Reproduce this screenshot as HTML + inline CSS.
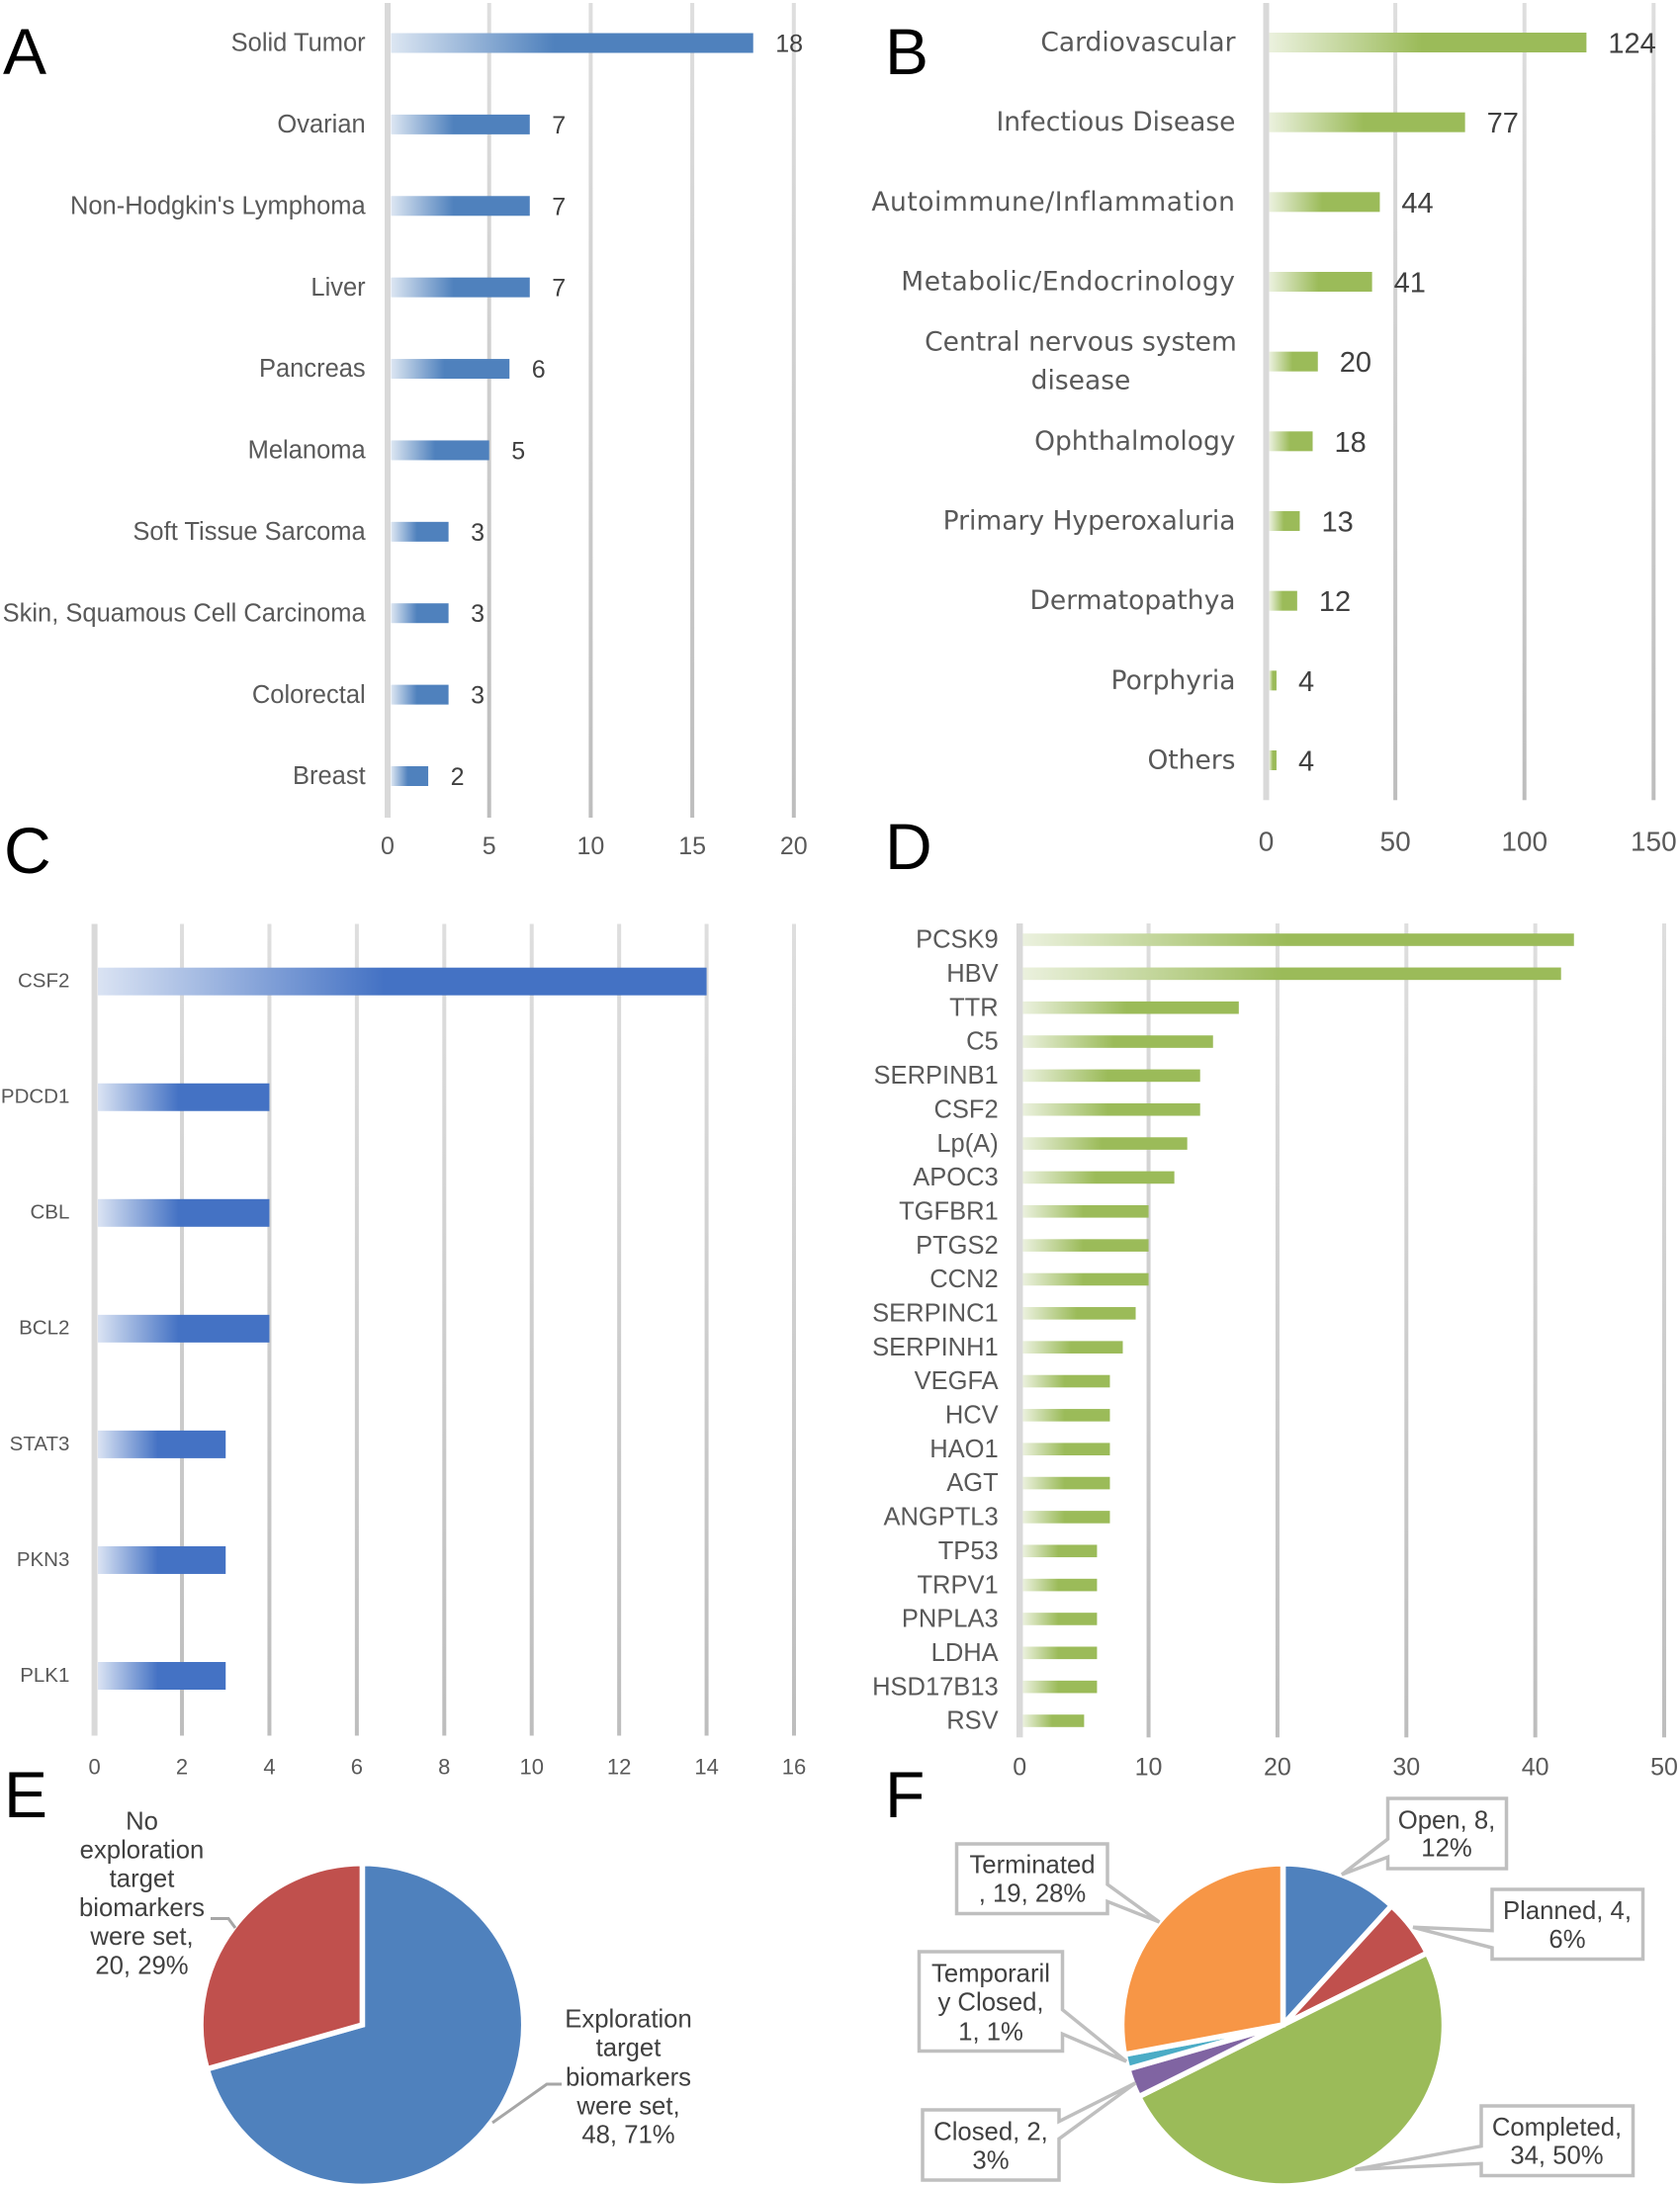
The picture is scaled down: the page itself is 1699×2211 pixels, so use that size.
<!DOCTYPE html>
<html lang="en">
<head>
<meta charset="utf-8">
<title>Panels A-F: bar and pie charts</title>
<style>
  html, body { margin: 0; padding: 0; background: #fff; }
  svg { display: block; font-family: "Liberation Sans", Arial, sans-serif; }
</style>
</head>
<body>
<svg id="figure" xmlns="http://www.w3.org/2000/svg" width="1699" height="2211" viewBox="0 0 1699 2211">
  <defs>
    <linearGradient id="grid-fade" x1="0" y1="0" x2="0" y2="1">
      <stop offset="0" stop-color="#dedede"/><stop offset="1" stop-color="#bdbdbd"/>
    </linearGradient>
    <linearGradient id="fade-a" x1="0" y1="0" x2="1" y2="0">
      <stop offset="0" stop-color="#dce6f2"/><stop offset="0.45" stop-color="#4f81bd"/><stop offset="1" stop-color="#4f81bd"/>
    </linearGradient>
    <linearGradient id="fade-b" x1="0" y1="0" x2="1" y2="0">
      <stop offset="0" stop-color="#ebf1de"/><stop offset="0.48" stop-color="#9bbb59"/><stop offset="1" stop-color="#9bbb59"/>
    </linearGradient>
    <linearGradient id="fade-c" x1="0" y1="0" x2="1" y2="0">
      <stop offset="0" stop-color="#dae3f3"/><stop offset="0.47" stop-color="#4472c4"/><stop offset="1" stop-color="#4472c4"/>
    </linearGradient>
  </defs>
  <rect x="0" y="0" width="1699" height="2211" fill="#ffffff"/>
  <g font-size="66" fill="#000000">
    <text x="3" y="75">A</text>
    <text x="895" y="75">B</text>
    <text x="4" y="883">C</text>
    <text x="895" y="879">D</text>
    <text x="4" y="1838">E</text>
    <text x="895" y="1838">F</text>
  </g>
  <g id="panels"></g>
</svg>
<script>
// ---- Panel A data ----
const categoriesA = ["Solid Tumor", "Ovarian", "Non-Hodgkin's Lymphoma", "Liver", "Pancreas", "Melanoma", "Soft Tissue Sarcoma", "Skin, Squamous Cell Carcinoma", "Colorectal", "Breast"];
const valuesA = [18, 7, 7, 7, 6, 5, 3, 3, 3, 2];
const ticksA = [0, 5, 10, 15, 20];
// ---- Panel B data ----
const categoriesB = ["Cardiovascular", "Infectious Disease", "Autoimmune/Inflammation", "Metabolic/Endocrinology", "Central nervous system|disease", "Ophthalmology", "Primary Hyperoxaluria", "Dermatopathya", "Porphyria", "Others"];
const valuesB = [124, 77, 44, 41, 20, 18, 13, 12, 4, 4];
const ticksB = [0, 50, 100, 150];
// ---- Panel C data ----
const categoriesC = ["CSF2", "PDCD1", "CBL", "BCL2", "STAT3", "PKN3", "PLK1"];
const valuesC = [14, 4, 4, 4, 3, 3, 3];
const ticksC = [0, 2, 4, 6, 8, 10, 12, 14, 16];
// ---- Panel D data ----
const categoriesD = ["PCSK9", "HBV", "TTR", "C5", "SERPINB1", "CSF2", "Lp(A)", "APOC3", "TGFBR1", "PTGS2", "CCN2", "SERPINC1", "SERPINH1", "VEGFA", "HCV", "HAO1", "AGT", "ANGPTL3", "TP53", "TRPV1", "PNPLA3", "LDHA", "HSD17B13", "RSV"];
const valuesD = [43, 42, 17, 15, 14, 14, 13, 12, 10, 10, 10, 9, 8, 7, 7, 7, 7, 7, 6, 6, 6, 6, 6, 5];
const ticksD = [0, 10, 20, 30, 40, 50];
// ---- Panel E data ----
const sliceNamesE = ["Exploration target biomarkers were set", "No exploration target biomarkers were set"];
const sliceValuesE = [48, 20];
// ---- Panel F data ----
const sliceNamesF = ["Open", "Planned", "Completed", "Closed", "Temporarily Closed", "Terminated"];
const sliceValuesF = [8, 4, 34, 2, 1, 19];

const NS = "http://www.w3.org/2000/svg";
const root = document.getElementById("panels");

function make(tag, parent, attrs) {
  const el = document.createElementNS(NS, tag);
  for (const k in attrs) el.setAttribute(k, attrs[k]);
  parent.appendChild(el);
  return el;
}

function slug(s) {
  return String(s).toLowerCase().replace(/[^a-z0-9]+/g, "-").replace(/^-|-$/g, "");
}

function drawBarPanel(panelId, cats, vals, ticks, o) {
  const g = make("g", root, {});
  
  
  const maxTick = ticks[ticks.length - 1];
  const xScale = v => o.x0 + (o.xMax - o.x0) * v / maxTick;
  const yScale = i => o.yFirst + (o.yLast - o.yFirst) * i / (cats.length - 1);
  const catFamily = o.catFamily || '"Liberation Sans", sans-serif';

  ticks.forEach(t => {
    const isZero = t === 0;
    const w = isZero ? o.axisW : o.gridW;
    const line = make("rect", g, {
      x: xScale(t) - w / 2, y: o.top, width: w, height: o.bottom - o.top,
      fill: isZero ? "#d9d9d9" : "url(#grid-fade)"
    });
    
    

    const label = make("text", g, {
      x: xScale(t), y: o.tickY + o.tickFont * 0.36,
      "font-size": o.tickFont, "text-anchor": "middle", fill: "#595959"
    });
    label.textContent = t;
    
    
  });

  cats.forEach((c, i) => {
    const cy = yScale(i);
    const bar = make("rect", g, {
      x: o.barStart, y: cy - o.barH / 2,
      width: Math.max(0, xScale(vals[i]) - o.barStart), height: o.barH,
      fill: "url(#" + o.fill + ")"
    });
    
    

    const lines = c.split("|");
    if (lines.length > 1) {
      lines.forEach((ln, k) => {
        const t = make("text", g, {
          x: o.wrapX, y: cy + (k === 0 ? -o.wrapGap : o.wrapGap) + o.catFont * 0.36 - 1,
          "font-size": o.catFont, "text-anchor": "middle", fill: "#595959",
          "font-family": catFamily
        });
        t.textContent = ln;
        
        
      });
    } else {
      const t = make("text", g, {
        x: o.catX, y: cy + o.catFont * 0.36 + (o.catDy || 0),
        "font-size": o.catFont, "text-anchor": "end", fill: "#595959",
        "font-family": catFamily,
        "letter-spacing": (o.slashSpacing && c.includes("/")) ? o.slashSpacing : 0
      });
      t.textContent = c;
      
      
    }

    if (o.valFont) {
      const v = make("text", g, {
        x: xScale(vals[i]) + o.valGap, y: cy + o.valFont * 0.36,
        "font-size": o.valFont, fill: "#404040"
      });
      v.textContent = vals[i];
      
      
    }
  });
}

drawBarPanel("a", categoriesA, valuesA, ticksA, {
  x0: 392, xMax: 802.8, top: 3, bottom: 827, yFirst: 43.5, yLast: 785,
  barH: 20, barStart: 395.5, axisW: 6, gridW: 4, fill: "fade-a",
  catX: 369.7, catFont: 25.5, catDy: -1, tickY: 855, tickFont: 25, valFont: 25, valGap: 22.5
});
drawBarPanel("b", categoriesB, valuesB, ticksB, {
  x0: 1280.5, xMax: 1672.3, top: 3, bottom: 809.3, yFirst: 43, yLast: 769,
  barH: 20, barStart: 1283.6, axisW: 6, gridW: 4, fill: "fade-b",
  catX: 1249.5, catFont: 26.5, catFamily: '"DejaVu Sans", sans-serif', catDy: -1, slashSpacing: 0.55, wrapX: 1093, wrapGap: 19.5,
  tickY: 850.5, tickFont: 28, valFont: 29, valGap: 22
});
drawBarPanel("c", categoriesC, valuesC, ticksC, {
  x0: 95.6, xMax: 803, top: 934.5, bottom: 1755.5, yFirst: 992.7, yLast: 1695,
  barH: 28, barStart: 99, axisW: 6, gridW: 4, fill: "fade-c",
  catX: 70.4, catFont: 20.5, catDy: -1.5, tickY: 1786.5, tickFont: 22
});
drawBarPanel("d", categoriesD, valuesD, ticksD, {
  x0: 1031.2, xMax: 1683, top: 934, bottom: 1757.3, yFirst: 950.5, yLast: 1740.5,
  barH: 12.6, barStart: 1034.4, axisW: 6.5, gridW: 4, fill: "fade-b",
  catX: 1009.7, catFont: 25.5, catDy: -1, tickY: 1786.7, tickFont: 25
});

function drawPie(panelId, names, vals, cx, cy, r, colors, gap) {
  const g = make("g", root, {});
  
  
  const total = vals.reduce((a, b) => a + b, 0);
  let acc = 0;
  vals.forEach((v, i) => {
    const a0 = acc / total * 2 * Math.PI;
    acc += v;
    const a1 = acc / total * 2 * Math.PI;
    const large = a1 - a0 > Math.PI ? 1 : 0;
    const d = "M" + cx + " " + cy +
      "L" + (cx + r * Math.sin(a0)) + " " + (cy - r * Math.cos(a0)) +
      "A" + r + " " + r + " 0 " + large + " 1 " + (cx + r * Math.sin(a1)) + " " + (cy - r * Math.cos(a1)) + "Z";
    const s = make("path", g, { d: d, fill: colors[i], stroke: "#ffffff", "stroke-width": gap, "stroke-linejoin": "miter" });
    
    
  });
  return total;
}

const totalE = drawPie("e", sliceNamesE, sliceValuesE, 366.4, 2048, 163.3, ["#4f81bd", "#c0504d"], 5.5);
const totalF = drawPie("f", sliceNamesF, sliceValuesF, 1297.5, 2048, 163, ["#4f81bd", "#c0504d", "#9bbb59", "#8064a2", "#4bacc6", "#f79646"], 5.5);

function pct(v, total) { return Math.round(v / total * 100); }

function drawLines(parent, lines, cx, ys, namePrefix) {
  lines.forEach((ln, i) => {
    const t = make("text", parent, {
      x: cx, y: ys[i] + 25.7 * 0.36, "font-size": 25.7, "text-anchor": "middle", fill: "#404040"
    });
    t.textContent = ln;
    
    
  });
}

// Panel E labels and leader lines
const leaderRed = make("polyline", root, { points: "213,1940.5 231,1940.5 238,1950", fill: "none", stroke: "#a6a6a6", "stroke-width": 3 });


const leaderBlue = make("polyline", root, { points: "568,2108 553,2108 498,2147", fill: "none", stroke: "#a6a6a6", "stroke-width": 3 });



drawLines(root, ["No", "exploration", "target", "biomarkers", "were set,", sliceValuesE[1] + ", " + pct(sliceValuesE[1], totalE) + "%"],
  143.5, [1841, 1870, 1899, 1928.5, 1957.5, 1987], "label-no-biomarkers");
drawLines(root, ["Exploration", "target", "biomarkers", "were set,", sliceValuesE[0] + ", " + pct(sliceValuesE[0], totalE) + "%"],
  635.5, [2041, 2070, 2100, 2129, 2158], "label-biomarkers-set");

// Panel F callouts
function callout(name, box, tip, side, baseY0, baseY1, textX, ys, lines) {
  const [x0, y0, x1, y1] = box;
  let pts;
  if (side === "left") {
    pts = [[x0, y0], [x1, y0], [x1, y1], [x0, y1], [x0, baseY1], tip, [x0, baseY0]];
  } else {
    pts = [[x0, y0], [x1, y0], [x1, baseY0], tip, [x1, baseY1], [x1, y1], [x0, y1]];
  }
  const p = make("polygon", root, {
    points: pts.map(q => q.join(",")).join(" "),
    fill: "#ffffff", stroke: "#bfbfbf", "stroke-width": 3.5, "stroke-linejoin": "miter"
  });
  
  
  drawLines(root, lines, textX, ys, 'callout-' + name);
}

const vF = sliceValuesF;
callout("open", [1403.5, 1819, 1523.5, 1890], [1357, 1896], "left", 1860, 1878.3, 1463, [1840, 1868.3],
  ["Open, " + vF[0] + ",", pct(vF[0], totalF) + "%"]);
callout("planned", [1509, 1911, 1661.5, 1981.5], [1429, 1949.3], "left", 1952.7, 1970, 1585, [1931.5, 1960.5],
  ["Planned, " + vF[1] + ",", pct(vF[1], totalF) + "%"]);
callout("completed", [1498, 2130, 1651.5, 2200.5], [1370.5, 2194.3], "left", 2170.7, 2188.3, 1574.5, [2150.5, 2179],
  ["Completed,", vF[2] + ", " + pct(vF[2], totalF) + "%"]);
callout("closed", [933, 2134, 1071, 2205], [1148.5, 2106.7], "right", 2145.7, 2163.3, 1002, [2155, 2184.3],
  ["Closed, " + vF[3] + ",", pct(vF[3], totalF) + "%"]);
callout("temporarily-closed", [929.5, 1974, 1074.5, 2074.5], [1139, 2085], "right", 2032.7, 2057.3, 1002, [1995, 2024, 2054],
  ["Temporaril", "y Closed,", vF[4] + ", " + pct(vF[4], totalF) + "%"]);
callout("terminated", [967.5, 1865, 1120, 1935.5], [1172.5, 1944], "right", 1906, 1923.3, 1044, [1885, 1914],
  ["Terminated", ", " + vF[5] + ", " + pct(vF[5], totalF) + "%"]);
</script>
</body>
</html>
